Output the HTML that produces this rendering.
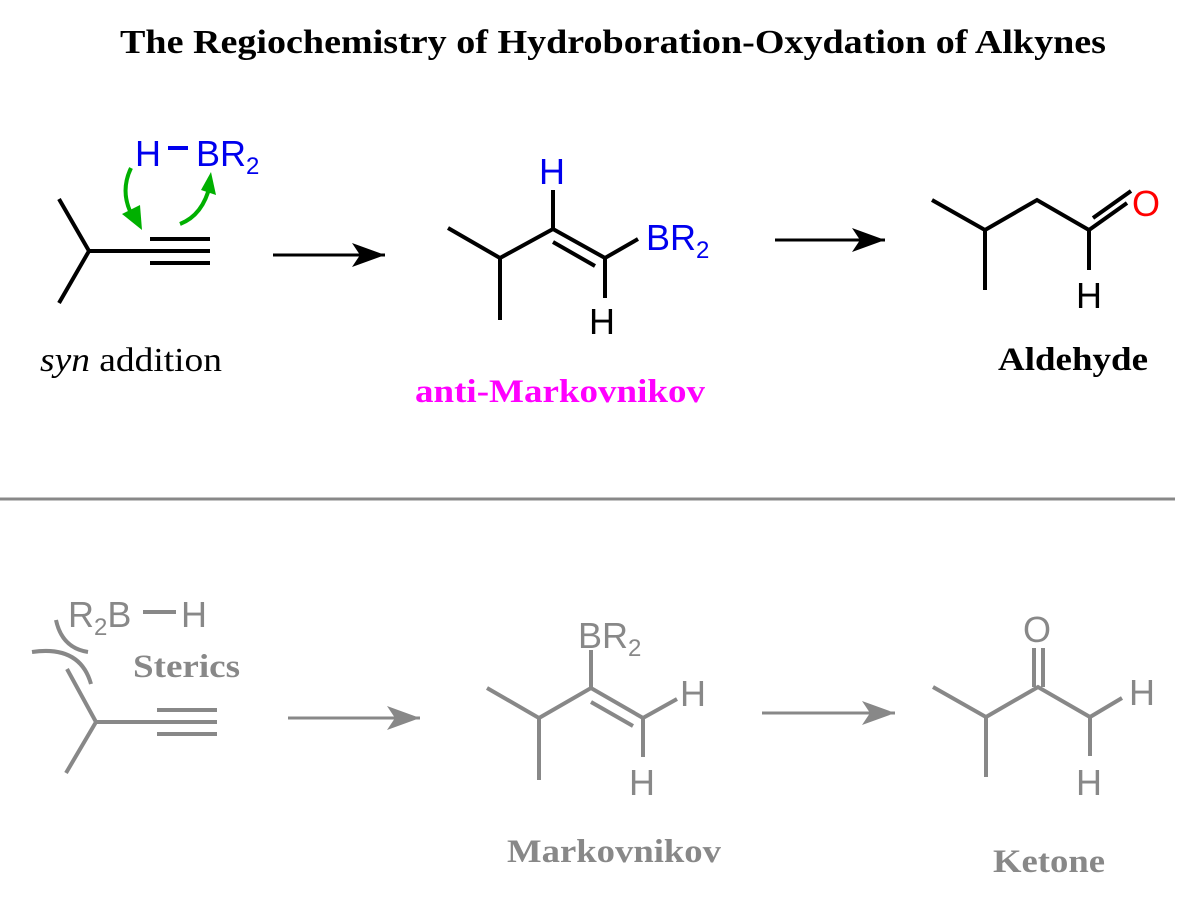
<!DOCTYPE html>
<html><head><meta charset="utf-8"><style>
html,body{margin:0;padding:0;background:#fff}
svg{display:block}
.s{font-family:"Liberation Sans",Arial,sans-serif}
.r{font-family:"Liberation Serif","Times New Roman",serif}
</style></head><body>
<svg width="1203" height="898" viewBox="0 0 1203 898" xmlns="http://www.w3.org/2000/svg">
<text x="613" y="53" text-anchor="middle" class="r" font-weight="bold" font-size="34" textLength="986" lengthAdjust="spacingAndGlyphs">The Regiochemistry of Hydroboration-Oxydation of Alkynes</text>

<!-- top left -->
<g stroke="#000" stroke-width="4" fill="none">
<path d="M59,199 L89,251 L59,303 M89,251 L150,251"/>
<path d="M150,239 H210 M150,251 H210 M150,263 H210"/>
</g>
<text x="135" y="166" class="s" font-size="36" fill="#0000ee">H</text>
<line x1="168" y1="148" x2="188" y2="148" stroke="#0000ee" stroke-width="4"/>
<text x="196" y="166" class="s" font-size="36" fill="#0000ee">BR<tspan font-size="24" dy="8">2</tspan></text>
<g stroke="#00b000" stroke-width="4" fill="none">
<path d="M131,168 Q118,195 136,222"/>
<path d="M180,224 Q203,215 210,185"/>
</g>
<path d="M122,214 L142,230 L140,205 Z" fill="#00b000"/>
<path d="M201,190 L211,172 L216,195 Z" fill="#00b000"/>
<text x="40" y="371" class="r" font-size="34" textLength="182" lengthAdjust="spacingAndGlyphs"><tspan font-style="italic">syn</tspan> addition</text>

<!-- arrows top -->
<line x1="273" y1="255" x2="385" y2="255" stroke="#000" stroke-width="3"/>
<path d="M385,255 L352,243 L360,255 L352,267 Z" fill="#000"/>
<line x1="775" y1="240" x2="885" y2="240" stroke="#000" stroke-width="3"/>
<path d="M885,240 L852,228 L860,240 L852,252 Z" fill="#000"/>

<!-- top middle -->
<g stroke="#000" stroke-width="4" fill="none">
<path d="M448,228 L500,258 L500,320 M500,258 L553,229 L605,258 L638,239 M553,229 L553,190 M605,258 L605,298 M553,242 L595,266"/>
</g>
<text x="539" y="184" class="s" font-size="36" fill="#0000ee">H</text>
<text x="646" y="250" class="s" font-size="36" fill="#0000ee">BR<tspan font-size="24" dy="8">2</tspan></text>
<text x="589" y="334" class="s" font-size="36" fill="#000">H</text>
<text x="415" y="402" class="r" font-weight="bold" font-size="33" fill="#ff00ff" textLength="290" lengthAdjust="spacingAndGlyphs">anti-Markovnikov</text>

<!-- top right -->
<g stroke="#000" stroke-width="4" fill="none">
<path d="M932,200 L985,230 L985,290 M985,230 L1037,200 L1089,230 L1089,270 M1089,230 L1127,203 M1093,218 L1131,191"/>
</g>
<text x="1132" y="216" class="s" font-size="36" fill="#ff0000">O</text>
<text x="1076" y="308" class="s" font-size="36" fill="#000">H</text>
<text x="998" y="370" class="r" font-weight="bold" font-size="33" textLength="150" lengthAdjust="spacingAndGlyphs">Aldehyde</text>

<line x1="0" y1="499" x2="1175" y2="499" stroke="#888" stroke-width="3"/>

<!-- bottom -->
<g fill="#888" stroke="none">
<text x="68" y="627" class="s" font-size="36">R<tspan font-size="24" dy="8">2</tspan><tspan dy="-8">B</tspan></text>
<text x="181" y="627" class="s" font-size="36">H</text>
<text x="133" y="677" class="r" font-weight="bold" font-size="33" textLength="107" lengthAdjust="spacingAndGlyphs">Sterics</text>
</g>
<g stroke="#888" stroke-width="4" fill="none">
<path d="M143,612 H176"/>
<path d="M56,620 Q62,648 88,652"/>
<path d="M32,652 Q80,645 91,684"/>
<path d="M67,669 L96,722 L66,773 M96,722 L157,722"/>
<path d="M157,710 H217 M157,722 H217 M157,734 H217"/>
</g>
<line x1="288" y1="718" x2="420" y2="718" stroke="#888" stroke-width="3"/>
<path d="M420,718 L387,706 L395,718 L387,730 Z" fill="#888"/>
<line x1="762" y1="713" x2="895" y2="713" stroke="#888" stroke-width="3"/>
<path d="M895,713 L862,701 L870,713 L862,725 Z" fill="#888"/>

<g stroke="#888" stroke-width="4" fill="none">
<path d="M487,688 L539,718 L539,780 M539,718 L591,688 L643,718 L677,699 M591,688 L591,650 M643,718 L643,757 M591,702 L633,726"/>
<path d="M933,687 L986,717 L986,777 M986,717 L1038,687 L1090,717 L1122,698 M1090,717 L1090,756 M1034,687 L1034,648 M1043,687 L1043,648"/>
</g>
<g fill="#888">
<text x="578" y="648" class="s" font-size="36">BR<tspan font-size="24" dy="8">2</tspan></text>
<text x="680" y="706" class="s" font-size="36">H</text>
<text x="629" y="795" class="s" font-size="36">H</text>
<text x="1023" y="642" class="s" font-size="36">O</text>
<text x="1129" y="705" class="s" font-size="36">H</text>
<text x="1076" y="795" class="s" font-size="36">H</text>
<text x="507" y="862" class="r" font-weight="bold" font-size="33" textLength="214" lengthAdjust="spacingAndGlyphs">Markovnikov</text>
<text x="993" y="872" class="r" font-weight="bold" font-size="33" textLength="112" lengthAdjust="spacingAndGlyphs">Ketone</text>
</g>
</svg>
</body></html>
